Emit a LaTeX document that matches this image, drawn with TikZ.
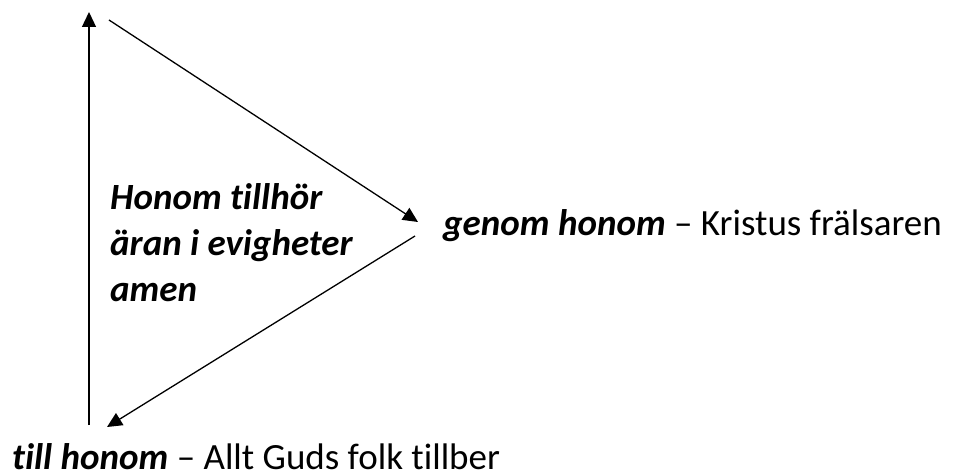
\documentclass[tikz,border=0pt]{standalone}
\usepackage{fontspec}
\setmainfont{Carlito}[Ligatures=NoCommon]
\usetikzlibrary{arrows.meta,positioning}

\begin{document}
\begin{tikzpicture}[x=1pt,y=-1pt,
  label/.style={inner sep=0pt, anchor=base west, font=\fontsize{37}{46}\selectfont},
  heading/.style={label, align=left, font=\fontsize{37}{46}\selectfont\bfseries\itshape},
  flow/.style={line width=1.3pt, -{Triangle[length=15pt,width=14pt]}},
]
\useasboundingbox (0,0) rectangle (955,473);

% texts
\node[heading] (glory) at (110,301) {Honom tillhör\\äran i evigheter\\amen};
\node[label] (through) at (443,235) {\textbf{\textit{genom honom}} – Kristus frälsaren};
\node[label,text depth=0pt] (to) at (12,469) {\textbf{\textit{till honom}} – Allt Guds folk tillber};

% arrow ends
\coordinate (top) at (89,12);
\coordinate (bottom) at (89,425);
\coordinate (from) at (109,20);
\coordinate (right in) at (418,222);
\coordinate (right out) at (415,236);
\coordinate (left) at (107,427);

\draw[flow] (bottom) -- (top);
\draw[flow] (from) -- (right in);
\draw[flow] (right out) -- (left);

\end{tikzpicture}
\end{document}
